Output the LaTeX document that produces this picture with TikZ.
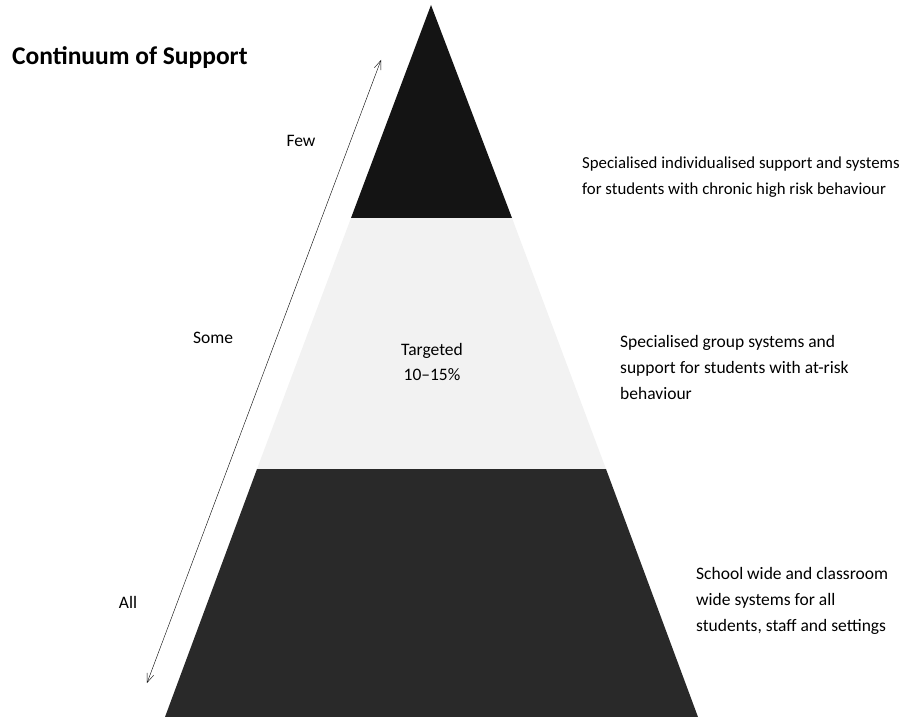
\documentclass[tikz,border=0pt]{standalone}
\usepackage{fontspec}
\setmainfont{Carlito}
\usetikzlibrary{positioning,arrows.meta}

\tikzset{
	tier/.style={draw=none},
	desc/.style={anchor=west, align=left, font=\fontsize{17.5}{26}\selectfont, inner sep=0pt},
	side/.style={font=\fontsize{17.5}{25}\selectfont, inner sep=0pt},
}

\begin{document}
\begin{tikzpicture}[x=1pt,y=-1pt]
	\useasboundingbox (0,0) rectangle (908,717);

	%% PYRAMID corners
	\coordinate (apex) at (431,5);
	\coordinate (top_l) at (351,218);
	\coordinate (top_r) at (512,218);
	\coordinate (mid_l) at (257,469);
	\coordinate (mid_r) at (606,469);
	\coordinate (bot_l) at (165,717);
	\coordinate (bot_r) at (698,717);

	% tiers
	\fill[tier, black!92] (apex) -- (top_r) -- (top_l) -- cycle;
	\fill[tier, black!5] (top_l) -- (top_r) -- (mid_r) -- (mid_l) -- cycle;
	\fill[tier, black!84] (mid_l) -- (mid_r) -- (bot_r) -- (bot_l) -- cycle;

	\node[side, align=center] (targeted) at (432,362) {Targeted\\10--15\%};

	%% TITLE and side labels
	\node[anchor=west, inner sep=0pt, font=\fontsize{25.5}{30}\bfseries\selectfont] (title) at (12,58) {Continuum of Support};

	\node[side] (few) at (301,141) {Few};
	\node[side] (some) at (213,338) {Some};
	\node[side] (all) at (128,602) {All};

	\coordinate (arr_top) at (381,60);
	\coordinate (arr_bot) at (147,683);
	\draw[{Straight Barb[length=9pt,width=7pt]}-{Straight Barb[length=9pt,width=7pt]}, thin] (arr_bot) -- (arr_top);

	%% DESCRIPTIONS
	\node[desc, font=\fontsize{16.8}{26}\selectfont] (desc_few) at (582,177) {Specialised individualised support and systems\\for students with chronic high risk behaviour};
	\node[desc] (desc_some) at (620,367) {Specialised group systems and\\support for students with at-risk\\behaviour};
	\node[desc] (desc_all) at (696,601) {School wide and classroom\\wide systems for all\\students, staff and settings};

\end{tikzpicture}
\end{document}
